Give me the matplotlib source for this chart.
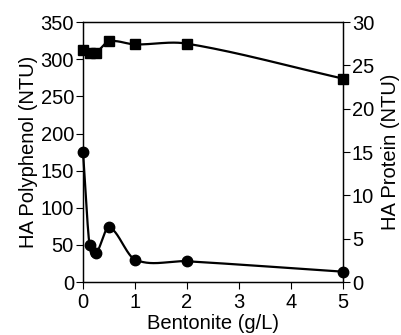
import numpy as np
import matplotlib
matplotlib.use('Agg')
import matplotlib.pyplot as plt

plt.rcParams['font.family'] = ['Liberation Sans', 'DejaVu Sans']

# Bentonite dose (g/L)
bentonite = [0, 0.125, 0.25, 0.5, 1, 2, 5]
# HA polyphenol (NTU), left axis, squares
polyphenol = [313, 309, 309, 324, 320, 321, 274]
# HA protein (NTU), right axis, circles
protein = [15.0, 4.3, 3.3, 6.3, 2.6, 2.4, 1.2]


def smooth(x, y, n=60):
    # cubic Hermite through the points, tangents from neighbours
    x = np.asarray(x, float)
    y = np.asarray(y, float)
    m = np.empty_like(y)
    m[1:-1] = (y[2:] - y[:-2]) / (x[2:] - x[:-2])
    m[0] = (y[1] - y[0]) / (x[1] - x[0])
    m[-1] = (y[-1] - y[-2]) / (x[-1] - x[-2])
    xs_all, ys_all = [], []
    for i in range(len(x) - 1):
        h = x[i + 1] - x[i]
        t = np.linspace(0, 1, n)
        h00 = 2 * t**3 - 3 * t**2 + 1
        h10 = t**3 - 2 * t**2 + t
        h01 = -2 * t**3 + 3 * t**2
        h11 = t**3 - t**2
        xs_all.append(x[i] + t * h)
        ys_all.append(h00 * y[i] + h10 * h * m[i] + h01 * y[i + 1] + h11 * h * m[i + 1])
    return np.concatenate(xs_all), np.concatenate(ys_all)


fig = plt.figure(figsize=(4.01, 3.35), dpi=100)
ax = fig.add_axes([0.207, 0.158, 0.648, 0.776])
ax2 = ax.twinx()

xs, ys = smooth(bentonite, polyphenol)
ax.plot(xs, ys, color='black', lw=1.6, clip_on=False)
ax.plot(bentonite, polyphenol, 's', color='black', ms=7.5, clip_on=False)

xs, ys = smooth(bentonite, protein)
ax2.plot(xs, ys, color='black', lw=1.6, clip_on=False)
ax2.plot(bentonite, protein, 'o', color='black', ms=7.5, clip_on=False)

ax.set_xlim(0, 5)
ax.set_ylim(0, 350)
ax2.set_ylim(0, 30)
ax.set_xticks(range(6))
ax.set_yticks(range(0, 351, 50))
ax2.set_yticks(range(0, 31, 5))

for a in (ax, ax2):
    a.tick_params(direction='out', length=5, width=0.8, labelsize=14.5, pad=1.5)
    for s in a.spines.values():
        s.set_linewidth(0.9)
ax.tick_params(axis='x', pad=3)

ax.set_xlabel('Bentonite (g/L)', fontsize=14.5, labelpad=1)
ax.set_ylabel('HA Polyphenol (NTU)', fontsize=14.5, labelpad=2)
ax2.set_ylabel('HA Protein (NTU)', fontsize=14.5, labelpad=5)

fig.savefig('out.png', dpi=100)
